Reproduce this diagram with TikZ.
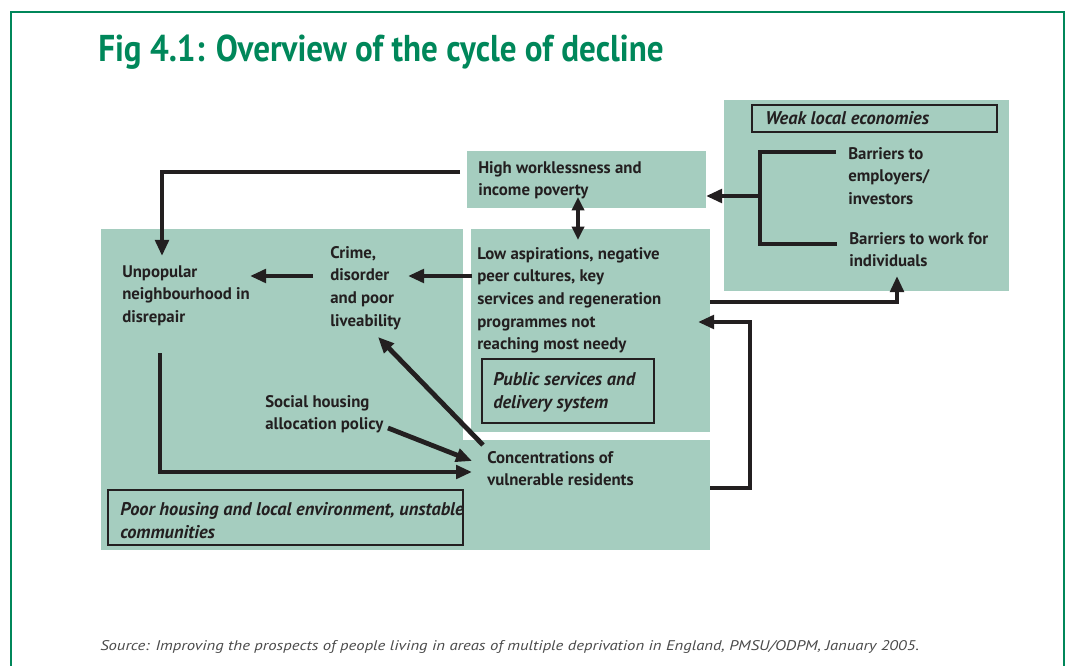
\documentclass[tikz,border=0pt]{standalone}
\usepackage{fontspec}
\setmainfont{PT Sans}
\usetikzlibrary{arrows.meta,fit}
\definecolor{boxfill}{HTML}{A5CDBF}
\definecolor{frameg}{HTML}{00875A}
\definecolor{ink}{HTML}{231F20}
\definecolor{srcgray}{HTML}{4A4A4A}
\begin{document}
\begin{tikzpicture}[x=0.75pt,y=-0.75pt,
 box/.style={fill=boxfill, draw=none, inner sep=0pt},
 txt/.style={font=\fontsize{12.6}{17}\selectfont\bfseries, text=ink, align=left, anchor=north west, inner sep=0pt},
 itxt/.style={txt, font=\fontsize{13.8}{17}\selectfont\bfseries\itshape},
 lbl/.style={draw=ink, line width=1.6pt, fill=none, inner sep=0pt},
 arr/.style={draw=ink, line width=3.6pt, -{Triangle[length=12pt,width=10pt]}},
 darr/.style={draw=ink, line width=3pt, {Triangle[length=10pt,width=9pt]}-{Triangle[length=10pt,width=9pt]}},
 ln/.style={draw=ink, line width=3.6pt}]
\useasboundingbox (0,0) rectangle (1069,666);
% frame
\draw[frameg, line width=1pt] (11,666) -- (11,12) -- (1064,12) -- (1064,666);
% title
\node[anchor=base west, inner sep=0pt, text=frameg, font=\fontsize{28}{30}\selectfont\bfseries] (title) at (98,62) {\resizebox{424pt}{\height}{Fig 4.1: Overview of the cycle of decline}};
% boxes
\node[box, fit={(101,229)(463,550)}] (leftbox) {};
\node[box, fit={(463,440)(710,550)}] (lowbox) {};
\node[box, fit={(471,229)(710,432)}] (lowaspbox) {};
\node[box, fit={(467,151)(706,208)}] (hwbox) {};
\node[box, fit={(724,100)(1009,291)}] (weakbox) {};
% label boxes
\node[lbl, fit={(752,105)(997,132)}] (weaklbl) {};
\node[lbl, fit={(482,359)(654,423)}] (publbl) {};
\node[lbl, fit={(108,490)(463,545)}] (poorlbl) {};
% texts
\node[itxt] (weak) at (765,111) {Weak local economies};
\node[itxt] (pub) at (493,372) {Public services and\\delivery system};
\node[itxt] (poor) at (120,502) {Poor housing and local environment, unstable\\communities};
\node[txt] (hw) at (478,161) {High worklessness and\\income poverty};
\node[txt] (low) at (477,247) {Low aspirations, negative\\peer cultures, key\\services and regeneration\\programmes not\\reaching most needy};
\node[txt] (unpop) at (122,265) {Unpopular\\neighbourhood in\\disrepair};
\node[txt] (crime) at (330,246) {Crime,\\disorder\\and poor\\liveability};
\node[txt] (bemp) at (848,147) {Barriers to\\employers/\\investors};
\node[txt] (bwork) at (849,232) {Barriers to work for\\individuals};
\node[txt] (social) at (265,395) {Social housing\\allocation policy};
\node[txt] (conc) at (487,451) {Concentrations of\\vulnerable residents};
% source
\node[anchor=base west, inner sep=0pt, text=srcgray, font=\fontsize{10.5}{12}\selectfont\itshape] (src) at (100,650) {\resizebox{614pt}{\height}{Source: Improving the prospects of people living in areas of multiple deprivation in England, PMSU/ODPM, January 2005.}};
% connector coordinates
\coordinate (hwout) at (460,172);
\coordinate (hwbend) at (162,172);
\coordinate (unpopin) at (162,256);
\coordinate (lowout) at (472,276);
\coordinate (crimein) at (408,276);
\coordinate (crimeout) at (313,276);
\coordinate (unpopin2) at (250,276);
\coordinate (hwdn) at (578,197);
\coordinate (lowup) at (578,240);
\coordinate (brtop) at (836,152);
\coordinate (brbot) at (837,244);
\coordinate (brmid) at (760,196);
\coordinate (hwin) at (706,196);
\coordinate (lowout2) at (710,302);
\coordinate (weakin) at (897,276);
\coordinate (concout) at (710,488);
\coordinate (lowin) at (698,322);
\coordinate (unpopout) at (160,353);
\coordinate (concin) at (472,472);
\coordinate (socialout) at (388,428);
\coordinate (concin2) at (472,461);
\coordinate (concout2) at (483,445);
\coordinate (crimein2) at (378,337);
% connectors
\draw[arr] (hwout) -- (hwbend) -- (unpopin);
\draw[arr] (lowout) -- (crimein);
\draw[arr] (crimeout) -- (unpopin2);
\draw[darr] (hwdn) -- (lowup);
\draw[ln] (brtop) -- (brtop -| brmid) -- (brbot -| brmid) -- (brbot);
\draw[arr] (brmid) -- (hwin);
\draw[arr] (lowout2) -| (weakin);
\draw[arr] (concout) -- (750,488) -- (750,322) -- (lowin);
\draw[arr] (unpopout) |- (concin);
\draw[arr] (socialout) -- (concin2);
\draw[arr] (concout2) -- (crimein2);
\end{tikzpicture}
\end{document}
